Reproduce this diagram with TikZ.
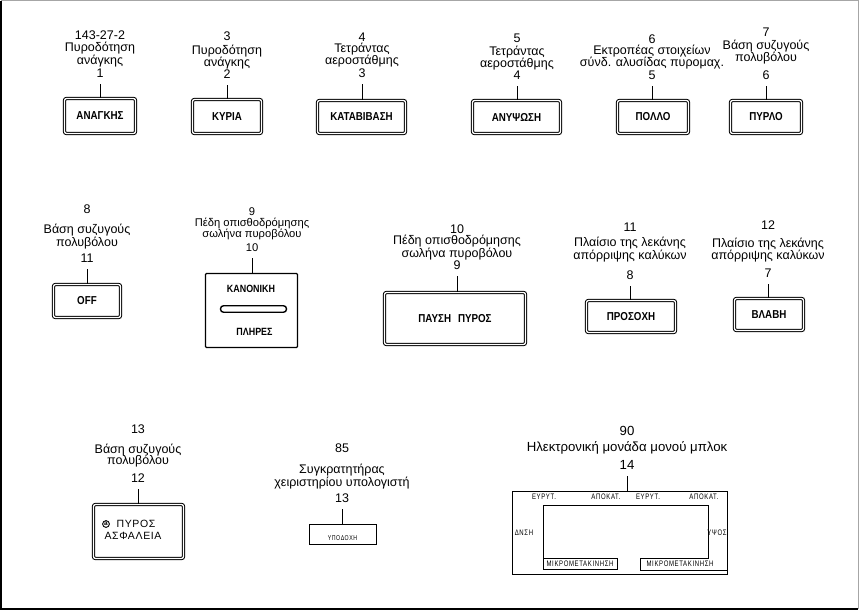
\documentclass[tikz,border=0pt]{standalone}
\usepackage{fontspec}
\setmainfont{Liberation Sans}
\newfontfamily\btnfont[FakeStretch=0.85]{Liberation Sans}
\newfontfamily\plainfont[LetterSpace=6]{Liberation Sans}
\newfontfamily\panelfont[FakeStretch=0.75,LetterSpace=8]{Liberation Sans}
\begin{document}
\begin{tikzpicture}[x=1pt,y=-1pt,
  lbl/.style={align=center, inner sep=0pt, anchor=south, font=\fontsize{12.5}{11.5}\selectfont},
  btn/.style={draw, double, line width=1pt, double distance=1.3pt, rounded corners=2pt, inner sep=0pt, font=\btnfont\bfseries\fontsize{11.5}{12}\selectfont},
  sbtn/.style={draw, line width=1.2pt, rounded corners=1pt, inner sep=0pt},
  thinbox/.style={draw, line width=0.8pt, inner sep=0pt},
  leader/.style={line width=0.8pt, shorten <=6pt},
  ptxt/.style={inner sep=0pt, font=\panelfont\fontsize{8}{8.5}\selectfont}]
\useasboundingbox (0,0) rectangle (859,610);
\fill[white] (0,0) rectangle (859,610);
% frame
\draw[gray!70, line width=1pt] (1,1) -- (858,1) -- (858,609);
\draw[black, line width=1.6pt] (1,1) -- (1,609) -- (858,609);

% ---- top row ----
\node[btn, minimum width=71pt, minimum height=35pt] (b1) at (100,116) {ΑΝΑΓΚΗΣ};
\node[btn, minimum width=69pt, minimum height=34pt] (b2) at (227,116.5) {ΚΥΡΙΑ};
\node[btn, minimum width=88pt, minimum height=33pt] (b3) at (361.5,117) {ΚΑΤΑΒΙΒΑΣΗ};
\node[btn, minimum width=88pt, minimum height=33pt] (b4) at (516.5,117) {ΑΝΥΨΩΣΗ};
\node[btn, minimum width=71pt, minimum height=33pt] (b5) at (653,117) {ΠΟΛΛΟ};
\node[btn, minimum width=71pt, minimum height=33pt] (b6) at (766,117) {ΠΥΡΛΟ};

\node[lbl] (l1) at (100,78) {143-27-2\\[-0.2pt]Πυροδότηση\\[0.5pt]ανάγκης\\[1.5pt]1};
\node[lbl] (l2) at (227,79) {3\\[1.8pt]Πυροδότηση\\[-0.8pt]ανάγκης\\[0.8pt]2};
\node[lbl] (l3) at (362,78) {4\\[-0.5pt]Τετράντας\\[-0.5pt]αεροστάθμης\\[1.5pt]3};
\node[lbl] (l4) at (517,80) {5\\[1pt]Τετράντας\\[-1.2pt]αεροστάθμης\\[1.2pt]4};
\node[lbl] (l5) at (652,80) {6\\[0.2pt]Εκτροπέας στοιχείων\\[-1.5pt]σύνδ. αλυσίδας πυρομαχ.\\[1.8pt]5};
\node[lbl] (l6) at (766,80) {7\\[1.9pt]Βάση συζυγούς\\[-1.2pt]πολυβόλου\\[6.5pt]6};

% ---- middle row ----
\node[btn, minimum width=67pt, minimum height=33pt] (b11) at (87,301) {OFF};
\node[sbtn, minimum width=92pt, minimum height=74pt] (b10) at (251.5,310.5) {};
\node[inner sep=0pt, font=\btnfont\bfseries\fontsize{10.5}{11}\selectfont] (t10a) at (251,288.5) {ΚΑΝΟΝΙΚΗ};
\node[draw, line width=1.4pt, rounded corners=3pt, minimum width=66pt, minimum height=6.5pt, inner sep=0pt] (slot) at (253.5,309) {};
\node[inner sep=0pt, font=\btnfont\bfseries\fontsize{10.5}{11}\selectfont] (t10b) at (254.5,332) {ΠΛΗΡΕΣ};
\node[btn, minimum width=141pt, minimum height=52pt] (b9) at (455,318.5) {ΠΑΥΣΗ\hspace{0.6em}ΠΥΡΟΣ};
\node[btn, minimum width=89pt, minimum height=32pt] (b8) at (631,316.5) {ΠΡΟΣΟΧΗ};
\node[btn, minimum width=69pt, minimum height=32pt] (b7) at (769,314.5) {ΒΛΑΒΗ};

\node[lbl] (l11) at (87,263) {8\\[9.2pt]Βάση συζυγούς\\[-0.5pt]πολυβόλου\\[4.8pt]11};
\node[lbl, font=\fontsize{11.2}{11.5}\selectfont] (l10) at (252,252) {9\\[-0.2pt]Πέδη οπισθοδρόμησης\\[-0.8pt]σωλήνα πυροβόλου\\[2.8pt]10};
\node[lbl] (l9) at (457,270) {10\\[0.2pt]Πέδη οπισθοδρόμησης\\[-0.2pt]σωλήνα πυροβόλου\\[0.5pt]9};
\node[lbl] (l8) at (630,280) {11\\[3.5pt]Πλαίσιο της λεκάνης\\[0.5pt]απόρριψης καλύκων\\[8.5pt]8};
\node[lbl] (l7) at (768,278) {12\\[5.8pt]Πλαίσιο της λεκάνης\\[-0.5pt]απόρριψης καλύκων\\[6.5pt]7};

% ---- bottom row ----
\node[btn, minimum width=90pt, minimum height=54pt] (b12) at (138.5,531.5) {};
\node[circle, draw, line width=0.9pt, inner sep=0.6pt, font=\bfseries\fontsize{6.5}{7}\selectfont] (ca) at (106,524) {a};
\node[inner sep=0pt, font=\plainfont\fontsize{10.5}{11}\selectfont] (t12a) at (136,524) {ΠΥΡΟΣ};
\node[inner sep=0pt, font=\plainfont\fontsize{10.5}{11}\selectfont] (t12b) at (133,536) {ΑΣΦΑΛΕΙΑ};

\node[thinbox, minimum width=67pt, minimum height=20pt] (b13) at (342.5,534) {};
\node[ptxt, font=\panelfont\fontsize{7}{7.5}\selectfont] (t13) at (342.5,538) {ΥΠΟΔΟΧΗ};

\node[thinbox, minimum width=215pt, minimum height=83pt] (b14) at (619.5,532.5) {};
\draw[line width=0.8pt] (543,558) -- (543,505) -- (708,505) -- (708,558) -- (640,558) -- (640,570) -- (727,570);
\draw[line width=0.8pt] (543,558) -- (543,569) -- (617,569) -- (617,558) -- cycle;
\node[ptxt] (p1) at (544,497) {ΕΥΡΥΤ.};
\node[ptxt] (p2) at (606,497) {ΑΠΟΚΑΤ.};
\node[ptxt] (p3) at (648,497) {ΕΥΡΥΤ.};
\node[ptxt] (p4) at (704,497) {ΑΠΟΚΑΤ.};
\node[ptxt] (p5) at (524,533) {ΔΝΣΗ};
\node[ptxt] (p6) at (717,533) {ΥΨΟΣ};
\node[ptxt] (p7) at (580,564) {ΜΙΚΡΟΜΕΤΑΚΙΝΗΣΗ};
\node[ptxt] (p8) at (680,564) {ΜΙΚΡΟΜΕΤΑΚΙΝΗΣΗ};

\node[lbl] (l12) at (138,483) {13\\[7.8pt]Βάση συζυγούς\\[-1.5pt]πολυβόλου\\[6.5pt]12};
\node[lbl] (l13) at (342,503) {85\\[9.5pt]Συγκρατητήρας\\[0.2pt]χειριστηρίου υπολογιστή\\[4.8pt]13};
\node[lbl, font=\fontsize{13.2}{11.5}\selectfont] (l14) at (627,470) {90\\[4.5pt]Ηλεκτρονική μονάδα μονού μπλοκ\\[5.5pt]14};

% leaders
\foreach \i in {1,...,14}{
  \draw[leader] (l\i.south) -- (l\i.south |- b\i.north);
}
\end{tikzpicture}
\end{document}
